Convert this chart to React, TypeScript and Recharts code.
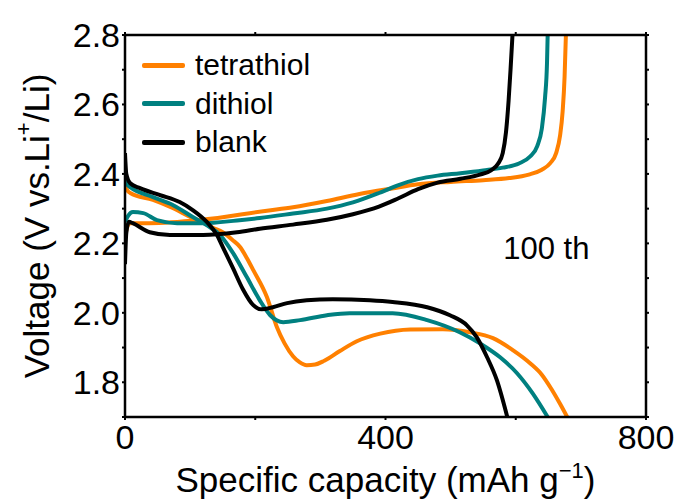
import React from 'react';
import { LineChart, Line, XAxis, YAxis, Legend, Label, ReferenceDot } from 'recharts';

// [capacity (mAh/g), voltage (V)] pairs
const tetraDischarge = [
  [0, 2.37], [3, 2.355], [8, 2.345], [43, 2.325], [74, 2.301], [104, 2.273], [115, 2.265],
  [135, 2.245], [150, 2.232], [165, 2.21], [177, 2.189], [187, 2.158], [197, 2.123],
  [218, 2.045], [233, 1.96], [245, 1.912], [258, 1.875], [268, 1.858], [279, 1.849],
  [292, 1.851], [306, 1.862], [330, 1.89], [356, 1.918], [392, 1.94], [438, 1.952],
  [488, 1.953], [530, 1.944], [565, 1.927], [596, 1.892], [622, 1.855], [640, 1.822],
  [655, 1.78], [668, 1.738], [679, 1.7],
];
const tetraCharge = [
  [0, 2.22], [4, 2.25], [8, 2.258], [37, 2.258], [115, 2.267], [218, 2.294], [258, 2.304],
  [310, 2.322], [360, 2.342], [410, 2.358], [450, 2.37], [500, 2.377], [550, 2.382],
  [590, 2.388], [620, 2.398], [640, 2.412], [653, 2.431], [662, 2.46], [668, 2.51],
  [672, 2.58], [675, 2.68], [677, 2.8],
];
const dithiolDischarge = [
  [0, 2.385], [3, 2.37], [8, 2.362], [43, 2.333], [74, 2.31], [104, 2.276], [126, 2.252],
  [146, 2.224], [166, 2.172], [187, 2.103], [207, 2.036], [223, 1.993], [243, 1.973],
  [269, 1.979], [310, 1.993], [345, 1.999], [411, 1.999], [464, 1.979], [514, 1.944],
  [545, 1.912], [576, 1.872], [602, 1.826], [626, 1.768], [649, 1.7],
];
const dithiolCharge = [
  [0, 2.262], [5, 2.28], [12, 2.29], [28, 2.287], [49, 2.267], [80, 2.258], [120, 2.258],
  [172, 2.266], [207, 2.273], [258, 2.286], [310, 2.3], [350, 2.318], [390, 2.345],
  [420, 2.368], [450, 2.385], [480, 2.395], [515, 2.402], [550, 2.41], [580, 2.418],
  [605, 2.43], [622, 2.45], [633, 2.48], [640, 2.53], [645, 2.62], [648, 2.72], [649, 2.8],
];
const blankDischarge = [
  [0, 2.46], [2, 2.4], [8, 2.373], [23, 2.359], [54, 2.339], [84, 2.319], [104, 2.296],
  [126, 2.261], [141, 2.225], [150, 2.19], [166, 2.128], [181, 2.068], [197, 2.022],
  [210, 2.01], [227, 2.016], [249, 2.028], [279, 2.036], [319, 2.039], [376, 2.036],
  [411, 2.031], [464, 2.016], [499, 1.993], [525, 1.964], [540, 1.93], [556, 1.872],
  [571, 1.806], [587, 1.7],
];
const blankCharge = [
  [0, 2.14], [2, 2.23], [6, 2.262], [12, 2.258], [38, 2.232], [69, 2.224], [120, 2.224],
  [172, 2.232], [207, 2.242], [258, 2.254], [310, 2.268], [350, 2.284], [390, 2.306],
  [420, 2.33], [450, 2.356], [480, 2.375], [515, 2.386], [545, 2.398], [562, 2.41],
  [573, 2.43], [580, 2.46], [585, 2.52], [589, 2.61], [592, 2.7], [595, 2.8],
];

const seriesNames = ['tetrathiol', 'dithiol', 'blank'];
const seriesColors = ['#ff8000', '#008080', '#000000'];
const seriesCurves = [
  [tetraDischarge, tetraCharge],
  [dithiolDischarge, dithiolCharge],
  [blankDischarge, blankCharge],
];

const xTicks = [0, 200, 400, 600, 800];
const xLabels = [0, 400, 800];
const yTicks = [1.7, 1.8, 1.9, 2.0, 2.1, 2.2, 2.3, 2.4, 2.5, 2.6, 2.7, 2.8];
const yLabels = [1.8, 2.0, 2.2, 2.4, 2.6, 2.8];

const FONT = '"Liberation Sans", Arial, sans-serif';

const toPts = (rows: number[][]) => rows.map(([x, v]) => ({ x, v }));

const BottomTick = (p: any) => {
  const v = p.payload.value;
  return (
    <g>
      <line x1={p.x} y1={p.y} x2={p.x} y2={p.y + 3} stroke="#000" strokeWidth={2} />
      {xLabels.includes(v) && (
        <text x={p.x} y={p.y + 32} textAnchor="middle" fontSize={34} fontFamily={FONT} fill="#000">
          {v}
        </text>
      )}
    </g>
  );
};

const TopTick = (p: any) => (
  <line x1={p.x} y1={p.y} x2={p.x} y2={p.y - 3} stroke="#000" strokeWidth={2} />
);

const LeftTick = (p: any) => {
  const v = p.payload.value;
  const show = yLabels.some((l) => Math.abs(l - v) < 1e-6);
  return (
    <g>
      <line x1={p.x - 3} y1={p.y} x2={p.x} y2={p.y} stroke="#000" strokeWidth={2} />
      {show && (
        <text x={p.x - 5} y={p.y + 12} textAnchor="end" fontSize={34} fontFamily={FONT} fill="#000">
          {v.toFixed(1)}
        </text>
      )}
    </g>
  );
};

const RightTick = (p: any) => (
  <line x1={p.x} y1={p.y} x2={p.x + 3} y2={p.y} stroke="#000" strokeWidth={2} />
);

const XTitle = (props: any) => {
  const { x, y, width } = props.viewBox;
  return (
    <text x={x + width / 2} y={y + 75} textAnchor="middle" fontSize={35} fontFamily={FONT} fill="#000">
      Specific capacity (mAh g
      <tspan dy={-14} fontSize={22}>−1</tspan>
      <tspan dy={14}>)</tspan>
    </text>
  );
};

const YTitle = (props: any) => {
  const { x, y, height } = props.viewBox;
  const cx = x + 36;
  const cy = y + height / 2;
  return (
    <text
      x={cx}
      y={cy}
      transform={`rotate(-90, ${cx}, ${cy})`}
      textAnchor="middle"
      dominantBaseline="central"
      fontSize={35}
      fontFamily={FONT}
      fill="#000"
    >
      Voltage (V vs.Li
      <tspan dy={-13} fontSize={22}>+</tspan>
      <tspan dy={13}>/Li)</tspan>
    </text>
  );
};

const renderLegend = () => (
  <div style={{ fontFamily: FONT, fontSize: 30, color: '#000' }}>
    {seriesNames.map((name, i) => (
      <div key={name} style={{ display: 'flex', alignItems: 'center', height: 38.5 }}>
        <span
          style={{
            display: 'inline-block',
            width: 43,
            height: 5,
            borderRadius: 2,
            background: seriesColors[i],
            marginRight: 10,
          }}
        />
        <span>{name}</span>
      </div>
    ))}
  </div>
);

const axisLine = { stroke: '#000', strokeWidth: 2.5 };

export default function App() {
  return (
    <div style={{ position: 'absolute', left: 0, top: 0, width: 680, height: 504, background: '#fff' }}>
      <LineChart width={680} height={504} margin={{ top: 0, right: 0, bottom: 0, left: 0 }}>
        <XAxis
          xAxisId="b"
          dataKey="x"
          type="number"
          domain={[0, 800]}
          ticks={xTicks}
          interval={0}
          allowDataOverflow
          height={87}
          tickSize={0}
          tickMargin={0}
          tickLine={false}
          axisLine={axisLine}
          tick={BottomTick}
        >
          <Label content={XTitle} />
        </XAxis>
        <XAxis
          xAxisId="t"
          orientation="top"
          dataKey="x"
          type="number"
          domain={[0, 800]}
          ticks={xTicks}
          interval={0}
          allowDataOverflow
          height={35}
          tickSize={0}
          tickMargin={0}
          tickLine={false}
          axisLine={axisLine}
          tick={TopTick}
        />
        <YAxis
          yAxisId="l"
          type="number"
          domain={[1.7, 2.8]}
          ticks={yTicks}
          interval={0}
          allowDataOverflow
          width={125}
          tickSize={0}
          tickMargin={0}
          tickLine={false}
          axisLine={axisLine}
          tick={LeftTick}
        >
          <Label content={YTitle} />
        </YAxis>
        <YAxis
          yAxisId="r"
          orientation="right"
          type="number"
          domain={[1.7, 2.8]}
          ticks={yTicks}
          interval={0}
          allowDataOverflow
          width={34}
          tickSize={0}
          tickMargin={0}
          tickLine={false}
          axisLine={axisLine}
          tick={RightTick}
        />
        <Legend
          layout="horizontal"
          align="center"
          verticalAlign="middle"
          content={renderLegend}
          wrapperStyle={{ left: 142, top: 46, width: 220 }}
        />
        {seriesCurves.map((curves, i) =>
          curves.map((rows, j) => (
            <Line
              key={`${seriesNames[i]}-${j}`}
              xAxisId="b"
              yAxisId="l"
              data={toPts(rows)}
              dataKey="v"
              name={seriesNames[i]}
              type="monotone"
              stroke={seriesColors[i]}
              strokeWidth={4}
              dot={false}
              activeDot={false}
              isAnimationActive={false}
            />
          ))
        )}
        <ReferenceDot
          xAxisId="b"
          yAxisId="l"
          x={647}
          y={2.186}
          r={0}
          fill="none"
          stroke="none"
          label={{ value: '100 th', position: 'center', fontSize: 31, fontFamily: FONT, fill: '#000' }}
        />
      </LineChart>
    </div>
  );
}
